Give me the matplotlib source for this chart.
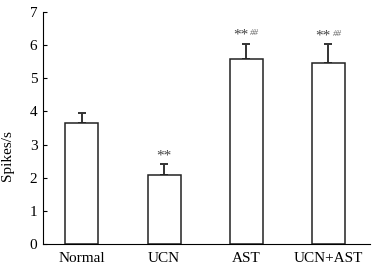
import matplotlib
matplotlib.use("Agg")
import matplotlib.pyplot as plt
import numpy as np

categories = ["Normal", "UCN", "AST", "UCN+AST"]
means = [3.65, 2.08, 5.57, 5.47]
errors = [0.30, 0.33, 0.48, 0.55]
stars = ["", "**", "**", "**"]
hashes = ["", "", "##", "##"]
yticks = [0, 1, 2, 3, 4, 5, 6, 7]

plt.rcParams['font.family'] = ['Liberation Serif', 'DejaVu Serif']

fig = plt.figure(figsize=(3.77, 2.67), dpi=100)
ax = fig.add_axes([0.114, 0.086, 0.867, 0.869])
x = np.arange(len(categories))
ax.bar(x, means, width=0.40, color='white', edgecolor='#222222', linewidth=1.1, zorder=2)
ax.errorbar(x, means, yerr=[np.zeros(len(means)), errors], fmt='none', ecolor='#333333',
            elinewidth=1.4, capsize=3, capthick=1.4, zorder=1)

for xi, m, e, s, h in zip(x, means, errors, stars, hashes):
    top = m + e + 0.05
    if s:
        ax.text(xi + (0.03 if h else 0), top, s, ha='right' if h else 'center', va='bottom',
                fontsize=11, color='#444444')
    if h:
        ax.text(xi + 0.05, top + 0.15, h, ha='left', va='bottom', fontsize=6.5,
                color='#666666', style='italic')

ax.set_xlim(-0.474, 3.504)
ax.set_ylim(0, 7)
ax.set_yticks(yticks)
ax.set_xticks(x)
ax.set_xticklabels(categories, fontsize=11)
ax.tick_params(axis='y', direction='in', length=3, labelsize=11, pad=4)
ax.tick_params(axis='x', length=0, pad=6)
ax.spines['top'].set_visible(False)
ax.spines['right'].set_visible(False)
ax.set_ylabel("Spikes/s", fontsize=11)
ax.yaxis.set_label_coords(-0.088, 0.38)

fig.savefig("out.png", dpi=100)
